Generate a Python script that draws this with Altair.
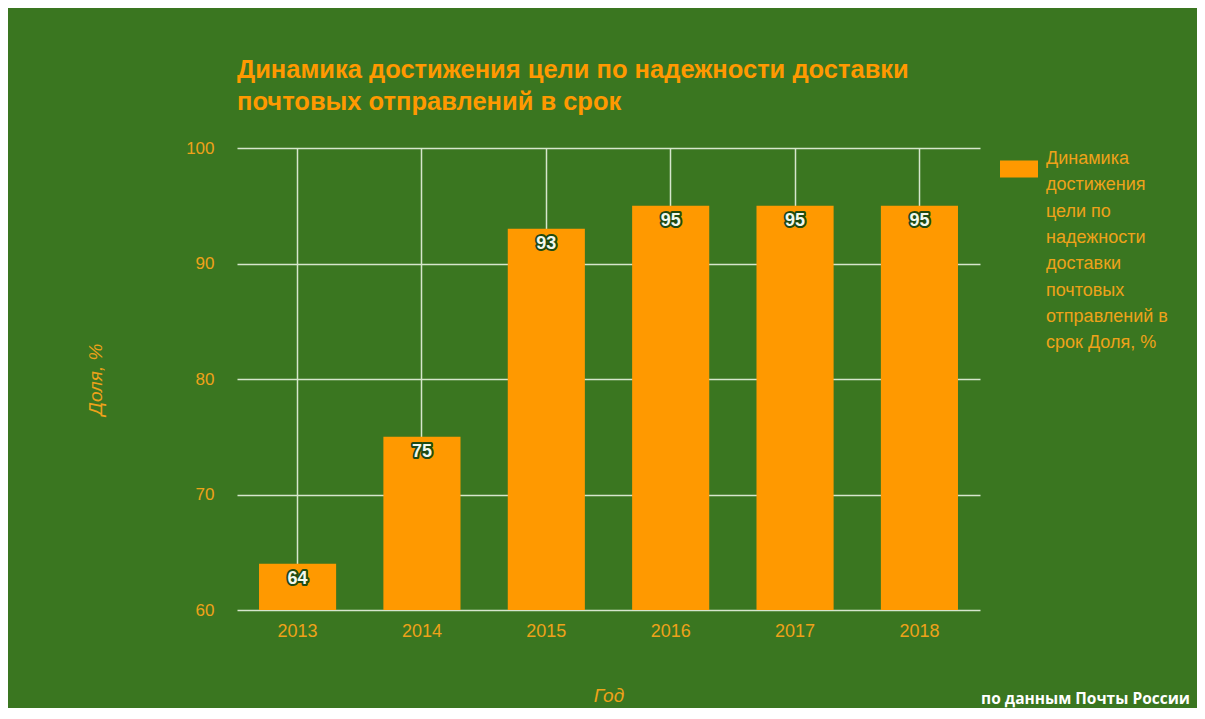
import altair as alt
import pandas as pd

# ---- data ----
years = ["2013", "2014", "2015", "2016", "2017", "2018"]
values = [64, 75, 93, 95, 95, 95]
series_name = "Динамика достижения цели по надежности доставки почтовых отправлений в срок Доля, %"
legend_lines = ["Динамика", "достижения", "цели по", "надежности", "доставки",
                "почтовых", "отправлений в", "срок Доля, %"]
title_lines = ["Динамика достижения цели по надежности доставки",
               "почтовых отправлений в срок"]
y_domain = [60, 100]
y_ticks = [60, 70, 80, 90, 100]
x_title = "Год"
y_title = "Доля, %"
source_note = "по данным Почты России"

BG = "#3a7620"
ORANGE = "#ff9900"
LABEL_ORANGE = "#eea21a"
GRID = "#d6e6cc"
FONT = "Liberation Sans"

df = pd.DataFrame({"year": years, "value": values, "series": [series_name] * len(years)})

W, H = 743, 462

x_enc = alt.X(
    "year:N", title=x_title,
    scale=alt.Scale(paddingInner=0.38, paddingOuter=0.177),
    axis=alt.Axis(labelAngle=0, grid=True, gridColor=GRID, gridWidth=1.5, ticks=False,
                  domain=False, labelPadding=12, labelFontSize=18, labelColor=LABEL_ORANGE,
                  labelFont=FONT, titleFont=FONT, titleFontSize=19, titleFontStyle="italic",
                  titleFontWeight="normal", titleColor=LABEL_ORANGE, titlePadding=46),
)
y_enc = alt.Y(
    "value:Q", title=y_title,
    scale=alt.Scale(domain=y_domain, zero=False, nice=False),
    axis=alt.Axis(values=y_ticks, grid=True, gridColor=GRID, gridWidth=1.5, ticks=False,
                  domain=False, labelPadding=23, labelFontSize=17, labelColor=LABEL_ORANGE,
                  labelFont=FONT, titleFont=FONT, titleFontSize=19, titleFontStyle="italic",
                  titleFontWeight="normal", titleColor=LABEL_ORANGE, titlePadding=80),
)

base = alt.Chart(df)

bars = base.mark_bar().encode(
    x=x_enc,
    y=y_enc,
    y2=alt.datum(y_domain[0]),
    color=alt.Color(
        "series:N",
        scale=alt.Scale(range=[ORANGE]),
        legend=alt.Legend(
            orient="none", legendX=763, legendY=2,
            title=legend_lines, titleOrient="right", titleAnchor="start",
            titleBaseline="top", titleLineHeight=26.3, titleFontSize=18,
            titleFont=FONT, titleFontWeight="normal", titleColor=LABEL_ORANGE,
            titlePadding=8, titleLimit=400,
            symbolType="M-1,-0.45L1,-0.45L1,0.45L-1,0.45Z", symbolSize=1444,
            symbolStrokeWidth=0, labelExpr="''", labelOffset=0,
        ),
    ),
)

outline = base.mark_text(baseline="top", dy=6, fontSize=18, fontWeight="bold", font=FONT,
                         stroke="#1f4a12", strokeWidth=4, strokeJoin="round",
                         fill="#1f4a12").encode(x="year:N", y="value:Q", text="value:Q")
labels = base.mark_text(baseline="top", dy=6, fontSize=18, fontWeight="bold", font=FONT,
                        fill="#f4f8ee").encode(x="year:N", y="value:Q", text="value:Q")

note = alt.Chart(pd.DataFrame({"note": [source_note]})).mark_text(
    align="right", baseline="middle", fontSize=15.5, fontWeight="bold", font="Open Sans",
    color="#ffffff"
).encode(text="note:N", x=alt.value(953), y=alt.value(551))

chart = alt.layer(bars, outline, labels, note).properties(
    width=W, height=H,
    background=BG,
    autosize=alt.AutoSizeParams(type="none"),
    padding={"left": 229, "top": 140, "right": 217, "bottom": 98},
    title=alt.Title(title_lines, anchor="start", frame="group", fontSize=25.5, font=FONT,
                    fontWeight="bold", color=ORANGE, lineHeight=32, offset=24),
).configure_view(stroke=None)

chart.save("out.html", embed_options={"renderer": "svg", "actions": False})
